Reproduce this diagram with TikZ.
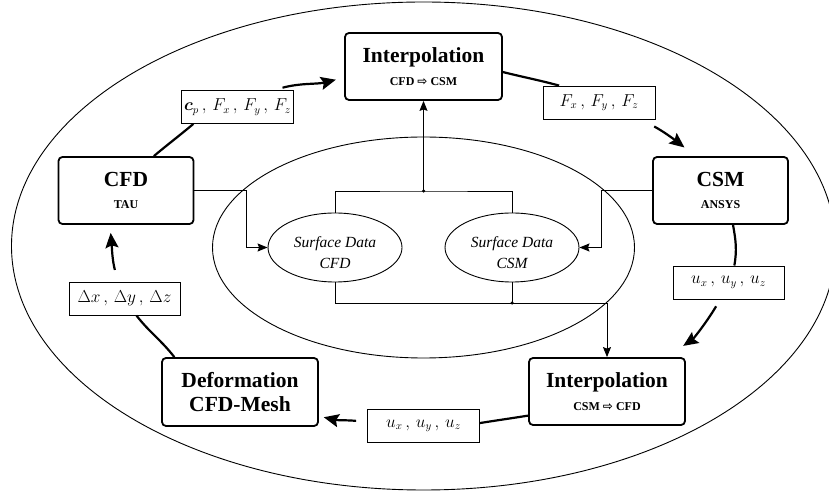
\documentclass[tikz,border=0pt]{standalone}
\usepackage{bm}
\usepackage{fontspec}
\setmainfont{Liberation Serif}
\newfontfamily\arrowfont{DejaVu Sans}
\usetikzlibrary{arrows.meta,shapes.geometric}
\newcommand{\subline}[1]{{\fontsize{12}{13}\selectfont #1}}
\begin{document}
\begin{tikzpicture}[x=1pt,y=1pt,
    box/.style={draw,line width=1.8pt,rounded corners=4pt,inner sep=0pt,align=center,
      font=\bfseries\fontsize{21.5}{22.5}\selectfont},
    lab/.style={draw,line width=0.9pt,fill=white,inner sep=0pt,minimum height=33pt,
      font=\fontsize{16}{19}\selectfont},
    sdata/.style={draw,ellipse,line width=0.9pt,inner sep=0pt,minimum width=134pt,
      minimum height=69pt,align=center,font=\itshape\fontsize{15.5}{21.7}\selectfont},
    flow/.style={line width=2.2pt,-{Stealth[length=15pt,width=13pt,inset=2.5pt]}},
    link/.style={line width=0.9pt,-{Stealth[length=10pt,width=8pt,inset=1.5pt]}},
    dot/.style={circle,fill,inner sep=0pt,minimum size=3.5pt}]
      \useasboundingbox (0,0) rectangle (829,492);
      \clip (0,0) rectangle (829,492);

      % Elipses de fondo
      \draw[line width=0.9pt] (423.5,246) ellipse [x radius=412, y radius=244];
      \draw[line width=0.9pt] (423.5,244.5) ellipse [x radius=211, y radius=110.5];

      % Bloques del ciclo
      \node[box,minimum width=157pt,minimum height=67pt] (ipA) at (423.5,425.5)
        {Interpolation\\\subline{CFD {\arrowfont ⇨} CSM}};
      \node[box,minimum width=135pt,minimum height=67pt] (cfd) at (126,301.5)
        {CFD\\\subline{TAU}};
      \node[box,minimum width=135pt,minimum height=67pt] (csm) at (720.5,301.5)
        {CSM\\\subline{ANSYS}};
      \node[box,minimum width=156pt,minimum height=68pt] (dfm) at (240,100)
        {Deformation\\[2.2pt]CFD-Mesh};
      \node[box,minimum width=156pt,minimum height=67pt] (ipB) at (607,100.5)
        {Interpolation\\\subline{CSM {\arrowfont ⇨} CFD}};

      % Datos de superficie
      \node[sdata] (sCFD) at (335,244.5) {\rule{0pt}{21pt}Surface Data\\CFD};
      \node[sdata] (sCSM) at (512,244.5) {\rule{0pt}{21pt}Surface Data\\CSM};

      % Etiquetas de las magnitudes
      \node[lab,minimum width=112pt] (lcp) at (237.5,385) {$\bm{c}_p\,,\,F_x\,,\,F_y\,,\,F_z$};
      \node[lab,minimum width=112pt] (lF) at (599,389.5) {$F_x\,,\,F_y\,,\,F_z$};
      \node[lab,minimum width=111pt] (luR) at (728.5,209.5) {$u_x\,,\,u_y\,,\,u_z$};
      \node[lab,minimum width=111pt] (ldx) at (124.5,193.5) {$\Delta x\,,\,\Delta y\,,\,\Delta z$};
      \node[lab,minimum width=112pt] (luB) at (423.5,66) {$u_x\,,\,u_y\,,\,u_z$};

      % Flechas gruesas del ciclo
      \draw[flow,shorten <=9pt,shorten >=8.5pt] (cfd.51) to[out=40,in=220] (lcp.201)
        (lcp.25) to[out=15,in=194] (ipA.188);
      \draw[flow,shorten <=15pt,shorten >=14pt] (ipA.356) to[out=-14,in=165] (lF.157)
        (lF.338) to[out=-28,in=142] (csm.126);
      \draw[flow,shorten <=8pt,shorten >=20pt] (csm.290) to[out=-80,in=80] (luR.71)
        (luR.244) to[out=239,in=34] (ipB.30);
      \draw[flow,shorten <=11pt,shorten >=5pt] (ipB.197) to[out=189,in=9] (luB.3)
        (luB.176) to[out=174,in=-13] (dfm.343);
      \draw[flow,shorten <=12pt,shorten >=8pt] (dfm.152) to[out=128,in=-52] (ldx.305)
        (ldx.111) to[out=105,in=-85] (cfd.245);

      % Conexiones finas
      \coordinate (j1) at (423.5,301);
      \coordinate (k) at (607,189);
      \draw[line width=0.9pt] (sCFD.north) |- (j1) -| (sCSM.north);
      \draw[link] (j1) -- (ipA.south);
      \node[dot] (d1) at (j1) {};
      \draw[link] (sCFD.south) |- (k) -- (ipB.north);
      \draw[line width=0.9pt] (sCSM.south) -- (sCSM.south |- k);
      \node[dot] (d2) at (sCSM.south |- k) {};
      \draw[link] (cfd.east) -- ++(52,0) |- (sCFD.west);
      \draw[link] (csm.west) -- ++(-51,0) |- (sCSM.east);
    \end{tikzpicture}
\end{document}
